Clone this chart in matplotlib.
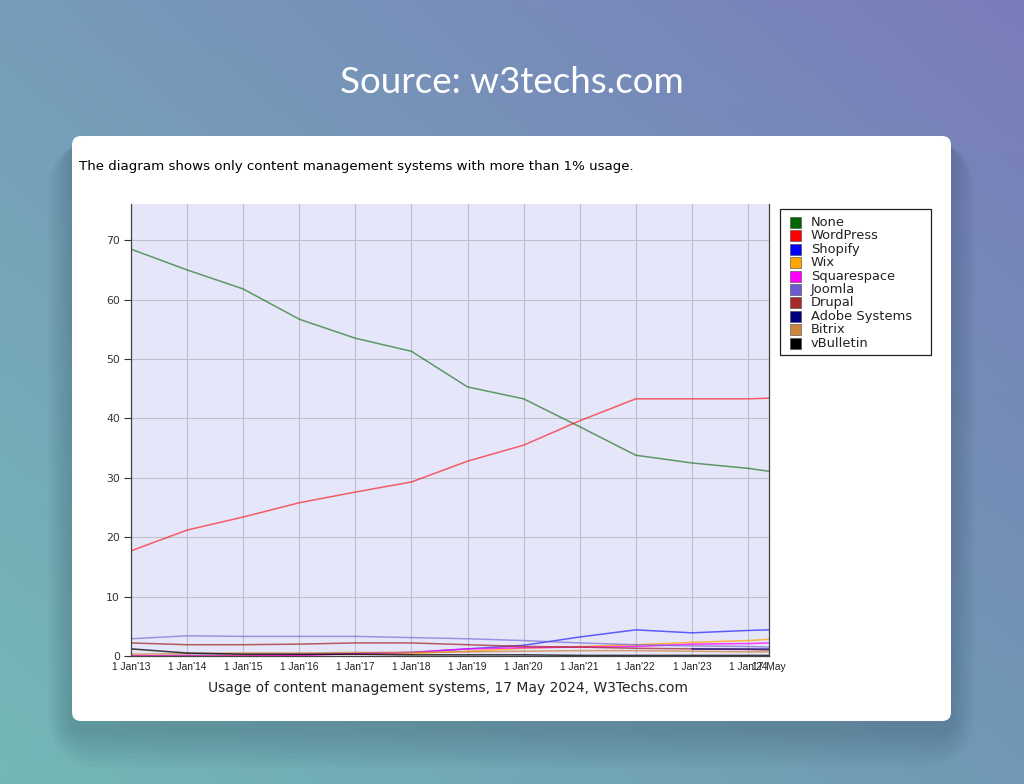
import numpy as np
import matplotlib
matplotlib.use("Agg")
import matplotlib.pyplot as plt
from matplotlib.patches import FancyBboxPatch, Rectangle

# x positions in years since 1 Jan 2013 (last point is 17 May 2024)
years = [0, 1, 2, 3, 4, 5, 6, 7, 8, 9, 10, 11, 11.375]
tick_labels = ["1 Jan'13", "1 Jan'14", "1 Jan'15", "1 Jan'16", "1 Jan'17", "1 Jan'18",
               "1 Jan'19", "1 Jan'20", "1 Jan'21", "1 Jan'22", "1 Jan'23", "1 Jan'24", "17 May"]

none_ = [68.5, 65.0, 61.8, 56.7, 53.5, 51.3, 45.3, 43.3, 38.6, 33.8, 32.5, 31.6, 31.1]
wordpress = [17.7, 21.2, 23.4, 25.8, 27.6, 29.3, 32.8, 35.5, 39.6, 43.3, 43.3, 43.3, 43.4]
shopify = [0.0, 0.1, 0.1, 0.2, 0.4, 0.6, 1.2, 1.8, 3.2, 4.4, 3.9, 4.3, 4.4]
wix = [0.0, 0.0, 0.1, 0.2, 0.3, 0.4, 0.8, 1.3, 1.6, 1.9, 2.3, 2.6, 2.8]
squarespace = [0.0, 0.0, 0.0, 0.1, 0.4, 0.6, 1.2, 1.4, 1.5, 1.6, 2.0, 2.1, 2.2]
joomla = [2.9, 3.4, 3.3, 3.3, 3.3, 3.1, 2.9, 2.6, 2.2, 1.9, 1.7, 1.6, 1.5]
drupal = [2.2, 1.9, 1.9, 2.0, 2.2, 2.2, 1.9, 1.6, 1.5, 1.3, 1.2, 1.1, 1.0]
adobe = [np.nan] * 10 + [1.1, 1.1, 1.1]
bitrix = [0.3, 0.4, 0.5, 0.5, 0.6, 0.6, 0.7, 0.8, 0.9, 0.9, 0.8, 0.7, 0.7]
vbulletin = [1.2, 0.5, 0.3, 0.3, 0.3, 0.2, 0.2, 0.2, 0.1, 0.1, 0.1, 0.1, 0.1]

names = ["None", "WordPress", "Shopify", "Wix", "Squarespace", "Joomla",
         "Drupal", "Adobe Systems", "Bitrix", "vBulletin"]
colors = ["#006400", "#ff0000", "#0000ff", "#ffa500", "#ff00ff", "#6a5acd",
          "#a52a2a", "#000080", "#cd853f", "#000000"]
series = [none_, wordpress, shopify, wix, squarespace, joomla,
          drupal, adobe, bitrix, vbulletin]

W, H = 1024, 784
fig = plt.figure(figsize=(W / 100, H / 100), dpi=100)

# gradient background
bg = fig.add_axes([0, 0, 1, 1])
tl = np.array([0x76, 0x9c, 0xb9]) / 255
tr = np.array([0x7a, 0x7c, 0xba]) / 255
bl = np.array([0x74, 0xb8, 0xb6]) / 255
br = np.array([0x70, 0x98, 0xb4]) / 255
u = np.linspace(0, 1, 256)[None, :, None]
v = np.linspace(0, 1, 200)[:, None, None]
img = (1 - v) * ((1 - u) * tl + u * tr) + v * ((1 - u) * bl + u * br)
bg.imshow(img, extent=[0, W, H, 0], aspect="auto", interpolation="bilinear")
bg.set_xlim(0, W)
bg.set_ylim(H, 0)
bg.axis("off")

# soft shadow, mostly below the card
for i in range(8):
    pad = 48 - i * 6
    bg.add_patch(FancyBboxPatch((72 - pad * 0.5, 136 - pad * 0.1 + 8), 879 + pad * 1.0, 585 + pad * 0.9,
                                boxstyle="round,pad=0,rounding_size=%d" % (10 + pad),
                                fc="#2a4052", ec="none", alpha=0.03, zorder=2))
bg.add_patch(FancyBboxPatch((72, 136), 879, 585, boxstyle="round,pad=0,rounding_size=9",
                            fc="white", ec="none", zorder=3))
bg.text(512, 82, "Source: w3techs.com", color="white", fontsize=26.5,
        family="Lato", ha="center", va="center", zorder=4)
bg.text(79, 166, "The diagram shows only content management systems with more than 1% usage.",
        fontsize=9.6, color="black", ha="left", va="center", zorder=4)
bg.text(448, 688, "Usage of content management systems, 17 May 2024, W3Techs.com",
        fontsize=10, color="#222222", ha="center", va="center", zorder=4)

# legend drawn by hand so that the rows sit as tight as in the original
bg.add_patch(Rectangle((780, 209), 151, 146, fc="white", ec="#222222", lw=0.9, zorder=4))
for i, (name, col) in enumerate(zip(names, colors)):
    yc = 222.5 + i * 13.4
    bg.add_patch(Rectangle((790, yc - 5.5), 11, 11, fc=col, ec="#444444", lw=0.4, zorder=5))
    bg.text(811, yc, name, fontsize=9.4, color="#222222", ha="left", va="center", zorder=5)

ax = fig.add_axes([131 / W, 1 - 656 / H, 638 / W, 452 / H])
ax.set_facecolor("#e6e6fa")
for name, col, ys in zip(names, colors, series):
    a = 0.6 if name in ("None", "WordPress", "Shopify", "Joomla") else 0.75
    ax.plot(years, ys, color=col, lw=1.1, alpha=a)

ax.set_xlim(0, 11.375)
ax.set_ylim(0, 76.1)
ax.set_xticks(years)
ax.set_xticklabels(tick_labels, fontsize=7.4, family="Liberation Sans", color="#222222")
ax.set_yticks([0, 10, 20, 30, 40, 50, 60, 70])
ax.tick_params(axis="y", labelsize=7.8, length=5, width=0.8, colors="#333333", pad=3)
ax.tick_params(axis="x", length=0, pad=4)
ax.grid(True, color="#c0c0c8", lw=0.8)
ax.set_axisbelow(True)
ax.spines["top"].set_visible(False)
for s in ("left", "right", "bottom"):
    ax.spines[s].set_color("#444444")
    ax.spines[s].set_linewidth(0.9)

fig.savefig("out.png", dpi=100)
